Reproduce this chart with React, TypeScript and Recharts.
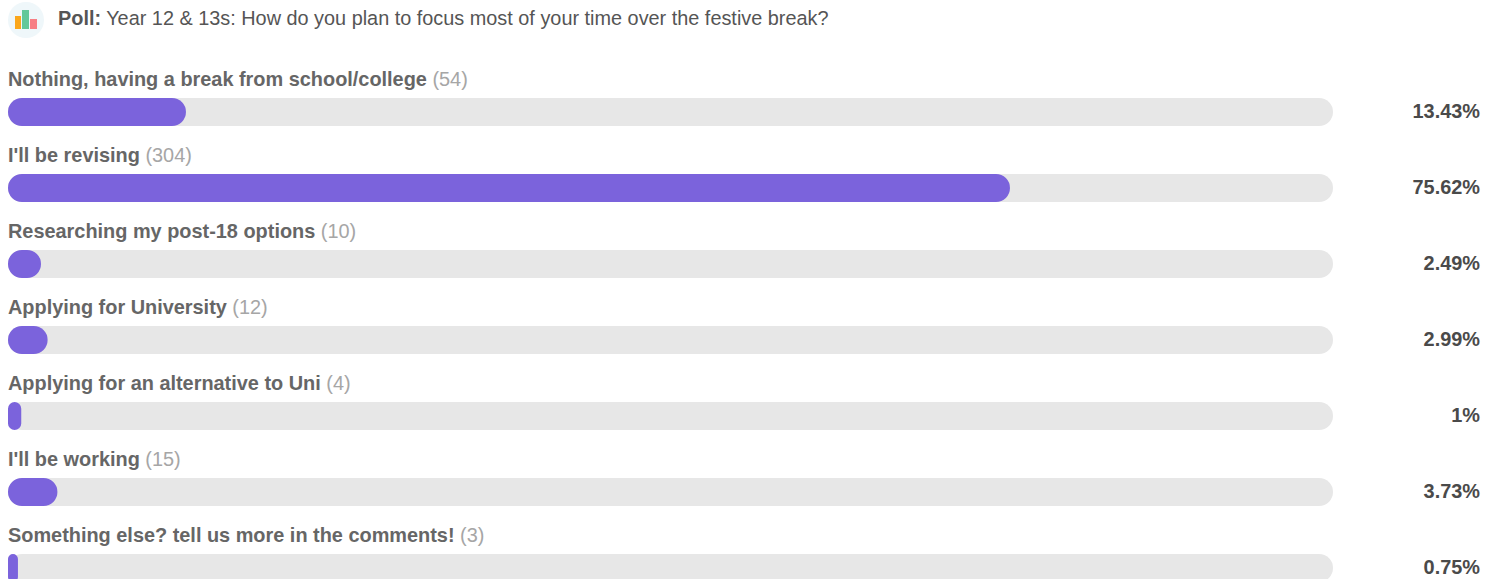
import { BarChart, Bar, XAxis, YAxis, LabelList } from "recharts";

const options = [
  "Nothing, having a break from school/college",
  "I'll be revising",
  "Researching my post-18 options",
  "Applying for University",
  "Applying for an alternative to Uni",
  "I'll be working",
  "Something else? tell us more in the comments!",
];
const votes = [54, 304, 10, 12, 4, 15, 3];
const percents = [13.43, 75.62, 2.49, 2.99, 1, 3.73, 0.75];

const rows = options.map((name, i) => ({ name, votes: votes[i], percent: percents[i] }));

const FONT = "'Liberation Sans', Arial, sans-serif";

// option name + vote count sits above the track, percentage out to the right
function RowLabels(props: any) {
  const { y, index } = props;
  const row = rows[index];
  return (
    <g fontFamily={FONT} fontSize={19.9}>
      <text x={8} y={y - 12}>
        <tspan fill="#666666" fontWeight={700}>{row.name}</tspan>
        <tspan fill="#a6a6a6"> ({row.votes})</tspan>
      </text>
      <text x={1480} y={y + 20} textAnchor="end" fill="#4a4a4a" fontWeight={700}>
        {row.percent}%
      </text>
    </g>
  );
}

function PollIcon() {
  return (
    <svg width={38} height={38} style={{ position: "absolute", left: 7, top: 1 }}>
      <circle cx={19} cy={19} r={18} fill="#eff7fa" />
      <rect x={8} y={15} width={6} height={13} fill="#fba71b" />
      <rect x={15} y={9} width={7} height={19} fill="#62c89a" />
      <rect x={23} y={18} width={7} height={10} fill="#f77f85" />
    </svg>
  );
}

export default function App() {
  return (
    <div style={{ position: "absolute", left: 0, top: 0, width: 1506, height: 579, overflow: "hidden", background: "#fff" }}>
      <PollIcon />
      <div style={{ position: "absolute", left: 58, top: 7, fontFamily: FONT, fontSize: 19.87, color: "#555", whiteSpace: "nowrap" }}>
        <b>Poll:</b> Year 12 &amp; 13s: How do you plan to focus most of your time over the festive break?
      </div>
      <BarChart
        width={1506}
        height={640}
        layout="vertical"
        data={rows}
        margin={{ top: 74, right: 173, bottom: 34, left: 8 }}
        barSize={28}
      >
        <XAxis type="number" domain={[0, 100]} hide />
        <YAxis type="category" dataKey="name" hide />
        <Bar
          dataKey="percent"
          fill="#7b63dc"
          radius={14}
          background={{ fill: "#e7e7e7", radius: 14 }}
          isAnimationActive={false}
        >
          <LabelList dataKey="percent" content={<RowLabels />} />
        </Bar>
      </BarChart>
    </div>
  );
}
